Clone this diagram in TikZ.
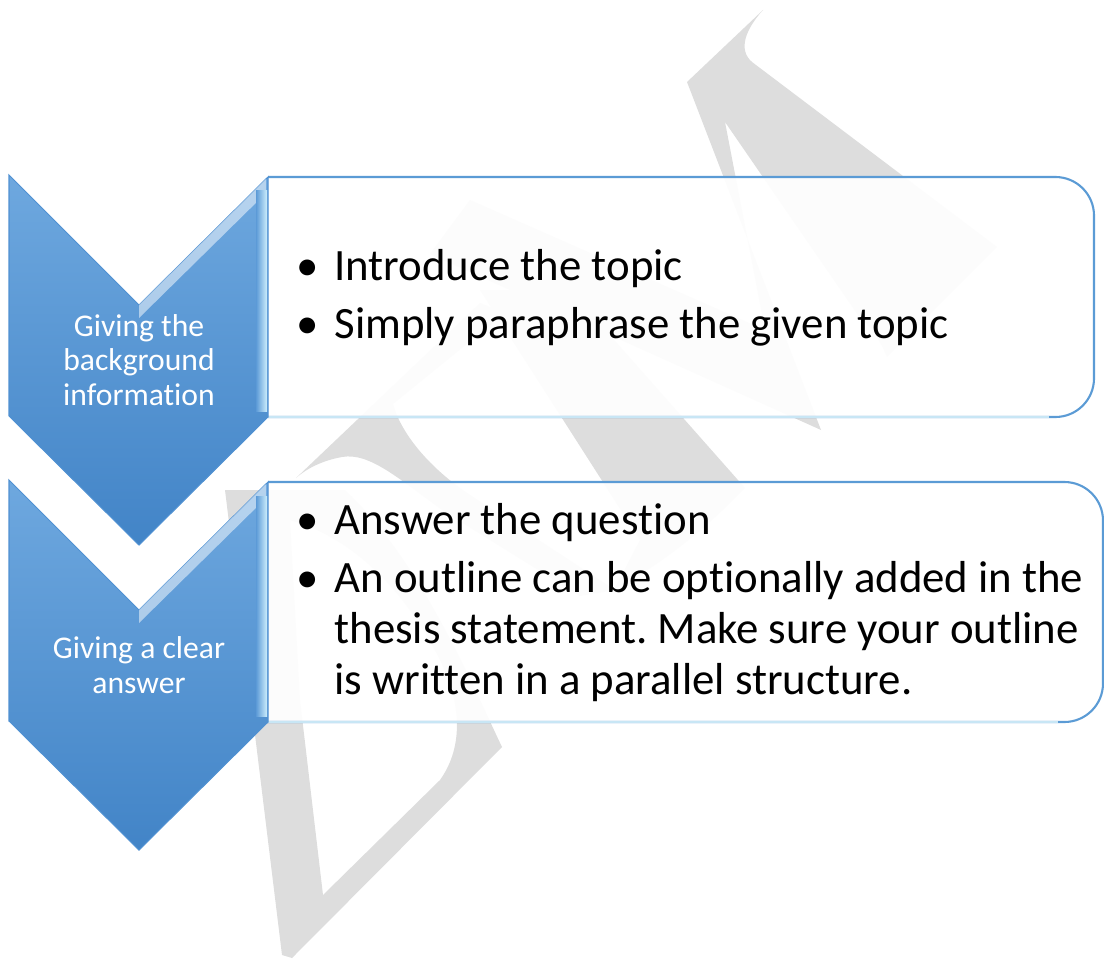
\documentclass[tikz,border=0pt]{standalone}
\usepackage{fontspec}
\setmainfont[Ligatures=NoCommon]{Carlito}
\frenchspacing

\definecolor{chevtop}{RGB}{110,168,223}
\definecolor{chevbot}{RGB}{66,132,199}
\definecolor{chevmid}{RGB}{92,154,215}
\definecolor{chevline}{RGB}{80,145,210}
\definecolor{bevlight}{RGB}{205,238,252}
\definecolor{boxline}{RGB}{91,155,213}
\definecolor{boxlow}{RGB}{200,230,245}
\definecolor{wmgray}{RGB}{221,221,221}

\tikzset{
  chevron/.style={top color=chevtop, bottom color=chevbot, draw=chevline, line width=0.6pt},
  bevel/.style={fill=white, fill opacity=0.5},
  txtbox/.style={fill=white, fill opacity=0.93, draw=boxline, line width=1.2pt, rounded corners=22pt},
  steplabel/.style={text=white, align=center, font=\fontsize{18}{19.6}\selectfont},
  pointlist/.style={anchor=west, text=black, inner sep=0pt, font=\fontsize{25.5}{29}\selectfont}
}

\begin{document}
\begin{tikzpicture}[x=0.02cm, y=-0.02cm]
  \useasboundingbox (0,0) rectangle (1104,959);

  % Watermark
  \fill[wmgray] (687,82) -- (763,10) .. controls (745,30) and (738,50) .. (752,62)
    -- (997,247) -- (887,357) .. controls (880,340) and (870,325) .. (860,318)
    -- (725,122) -- (765,330) -- (470,200) -- (430,254) -- (821,430) -- cycle;
  \fill[wmgray] (296,478) -- (480,303) -- (505,313) -- (393,404)
    .. controls (400,430) and (425,465) .. (470,495) -- (615,590) -- (580,596)
    -- (445,512) .. controls (400,480) and (370,452) .. (342,457)
    .. controls (320,461) and (305,470) .. (296,478) -- cycle;
  \fill[wmgray] (480,290) -- (570,290) -- (745,488)
    .. controls (700,535) and (650,572) .. (615,588) -- (640,540) -- cycle;
  \fill[wmgray, even odd rule] (282,955) -- (292,958) -- (502,747)
    .. controls (470,680) and (420,560) .. (345,490) -- (225,490) -- cycle
    (300,700) -- (323,895) -- (440,780) .. controls (465,745) and (460,700) .. (440,660)
    .. controls (410,600) and (360,540) .. (290,520) -- cycle;

  % Boxes
  \foreach \t/\r in {175/1094, 480/1103} {
    \draw[txtbox] (268,\t+2) -- (\r,\t+2) -- (\r,\t+242) -- (268,\t+242);
    \draw[boxlow, line width=1.2pt] (268,\t+242) -- (\r-45,\t+242);
  }

  % Chevrons
  \foreach \t in {175, 480} {
    \draw[chevron] (9,\t) -- (139,\t+130) -- (268,\t+2) -- (268,\t+242)
      -- (139,\t+370) -- (9,\t+241) -- cycle;
    \fill[bevel] (139,\t+130) -- (266,\t+4) -- (266,\t+18) -- (139,\t+143) -- cycle;
    \shade[left color=chevmid, right color=bevlight] (256,\t+16) rectangle (267,\t+236);
  }

  % Labels
  \node[steplabel] (step1) at (139,360) {Giving the\\background\\information};
  \node[steplabel] (step2) at (139,665) {Giving a clear\\answer};

  \node[pointlist] (points1) at (296,299) {%
    \begin{tabular}{@{}l@{\hspace{9pt}}p{16.5cm}@{}}
      \textbullet & Introduce the topic\\[4pt]
      \textbullet & Simply paraphrase the given topic
    \end{tabular}};
  \node[pointlist] (points2) at (296,604) {%
    \begin{tabular}{@{}l@{\hspace{9pt}}p{16.5cm}@{}}
      \textbullet & Answer the question\\[4pt]
      \textbullet & An outline can be optionally added in the\newline
        thesis statement. Make sure your outline\newline
        is written in a parallel structure.
    \end{tabular}};
\end{tikzpicture}
\end{document}
